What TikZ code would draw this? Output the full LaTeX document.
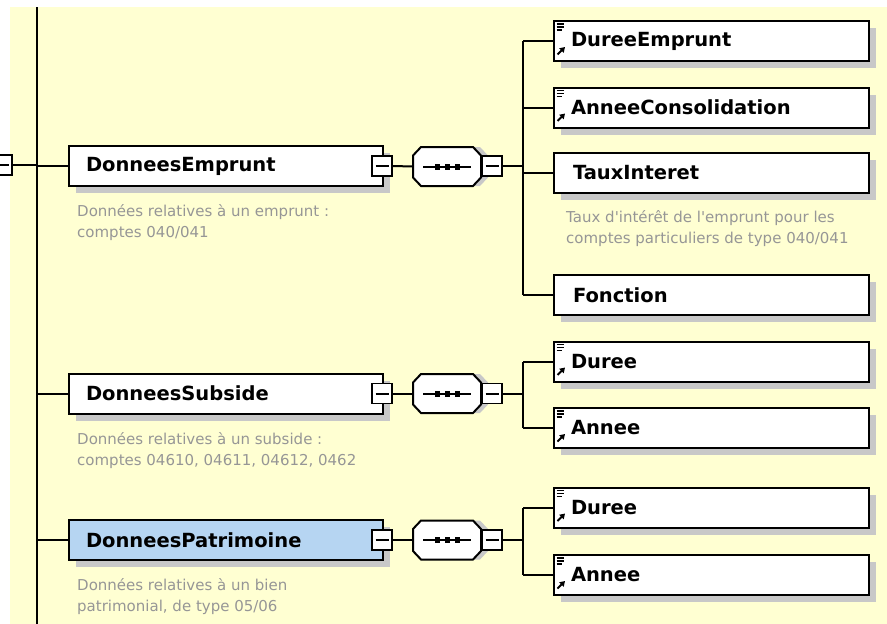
\documentclass[tikz,border=0pt]{standalone}
\usepackage{fontspec}
\setmainfont{DejaVu Sans}
\newfontfamily\descfont{DejaVu Sans}[Ligatures=TeXOff]
\usetikzlibrary{shadows,arrows.meta,calc}
\definecolor{bgyellow}{RGB}{255,255,210}
\definecolor{shgray}{RGB}{200,200,200}
\definecolor{descgray}{RGB}{150,150,150}
\definecolor{selblue}{RGB}{182,213,242}
\tikzset{
  shadowed/.style={drop shadow={shadow xshift=7pt, shadow yshift=-7pt, fill=shgray, opacity=1}},
  mainbox/.style={draw=black, line width=2pt, fill=white, minimum height=40pt,
    inner ysep=0pt, inner xsep=17pt, text width=280pt, align=left, anchor=west,
    font=\bfseries\fontsize{19.5}{22}\selectfont, shadowed},
  childbox/.style={mainbox, text width=281pt},
  minusbox/.style={draw=black, line width=1.6pt, fill=white, minimum size=20pt, inner sep=0pt},
  conn/.style={draw=black, line width=2pt},
  desc/.style={anchor=west, inner sep=0pt, align=left, text=descgray,
    font=\descfont\fontsize{15}{21}\selectfont},
  compo/.style={inner sep=0pt, minimum width=68pt, minimum height=39pt}
}
\newcommand\minussign[1]{\draw[line width=2pt] ($(#1.center)+(-6.5,0)$) -- ($(#1.center)+(6.5,0)$);}
\newcommand\seqcompo[3]{%
  \node[compo] (#1) at (#2,#3) {};
  \begin{scope}[shift={(#2,#3)}]
    \fill[shgray] (-27,-11) -- (-19,-19.5) -- (33,-19.5) -- (41,-11) -- (41,11) -- (33,19.5) -- (-19,19.5) -- (-27,11) -- cycle;
    \filldraw[fill=white, draw=black, line width=2pt] (-34,-11) -- (-26,-19.5) -- (26,-19.5) -- (34,-11) -- (34,11) -- (26,19.5) -- (-26,19.5) -- (-34,11) -- cycle;
    \draw[line width=2pt] (-24,0) -- (24,0);
    \fill (-12.5,-3) rectangle (-7.5,3);
    \fill (-2.5,-3) rectangle (2.5,3);
    \fill (7.5,-3) rectangle (12.5,3);
  \end{scope}}
\newcommand\refico[1]{%
  \begin{scope}[shift={(#1.north west)}]
    \draw[line width=1.1pt] (3.5,4) -- (10.5,4) (3.5,7) -- (10.5,7) (3.5,10) -- (9,10);
    \draw[line width=2pt, -{Triangle[length=5pt,width=6pt]}] (4.5,34.5) -- (12,27);
  \end{scope}}
\begin{document}
\begin{tikzpicture}[x=1pt,y=-1pt]
\useasboundingbox (0,0) rectangle (887,624);
\fill[white] (0,0) rectangle (887,624);
\fill[bgyellow] (10,7) rectangle (887,624);

% main trunk
\coordinate (mt) at (37,7);
\coordinate (mb) at (37,624);
\draw[conn] (mt) -- (mb);

% partial box at far left
\node[minusbox] (lb) at (2,165) {};
\minussign{lb}

% ---------- DonneesEmprunt ----------
\node[mainbox] (e) at (68,166) {DonneesEmprunt};
\node[minusbox] (em1) at (382,166) {};
\minussign{em1}
\seqcompo{ec}{447}{166.5}
\node[minusbox] (em2) at (492,166) {};
\minussign{em2}
\coordinate (et) at (523,166);
\node[desc] (ed) at (77,222.5) {Données relatives à un emprunt :\\comptes 040/041};

\node[childbox] (c1) at (553,41) {DureeEmprunt};
\node[childbox] (c2) at (553,107.5) {AnneeConsolidation};
\node[childbox, inner xsep=19pt, text width=277pt] (c3) at (553,173) {TauxInteret};
\node[desc] (c3d) at (566,228.5) {Taux d'intérêt de l'emprunt pour les\\comptes particuliers de type 040/041};
\node[childbox, inner xsep=19pt, text width=277pt] (c4) at (553,295) {Fonction};
\refico{c1}
\refico{c2}

\draw[conn] (lb.east) -- (mt |- lb.east);
\draw[conn] (mt |- e.west) -- (e.west);
\draw[conn] (em1.east) -- (ec.west);
\draw[conn] (ec.east) -- (em2.west);
\draw[conn] (em2.east) -- (et);
\draw[conn] (et |- c1.west) -- (et |- c4.west);
\foreach \c in {c1,c2,c3,c4} \draw[conn] (et |- \c.west) -- (\c.west);

% ---------- DonneesSubside ----------
\node[mainbox] (s) at (68,393.5) {DonneesSubside};
\node[minusbox] (sm1) at (382,393.5) {};
\minussign{sm1}
\seqcompo{sc}{447}{393.5}
\node[minusbox] (sm2) at (492,393.5) {};
\minussign{sm2}
\coordinate (st) at (523,393.5);
\node[desc] (sd) at (77,450.5) {Données relatives à un subside :\\comptes 04610, 04611, 04612, 0462};

\node[childbox] (s1) at (553,361.5) {Duree};
\node[childbox] (s2) at (553,428) {Annee};
\refico{s1}
\refico{s2}

\draw[conn] (mt |- s.west) -- (s.west);
\draw[conn] (sm1.east) -- (sc.west);
\draw[conn] (sc.east) -- (sm2.west);
\draw[conn] (sm2.east) -- (st);
\draw[conn] (st |- s1.west) -- (st |- s2.west);
\foreach \c in {s1,s2} \draw[conn] (st |- \c.west) -- (\c.west);

% ---------- DonneesPatrimoine ----------
\node[mainbox, fill=selblue] (p) at (68,540) {DonneesPatrimoine};
\node[minusbox] (pm1) at (382,540) {};
\minussign{pm1}
\seqcompo{pc}{447}{540}
\node[minusbox] (pm2) at (492,540) {};
\minussign{pm2}
\coordinate (pt) at (523,540);
\node[desc] (pd) at (77,596.5) {Données relatives à un bien\\patrimonial, de type 05/06};

\node[childbox] (p1) at (553,507.5) {Duree};
\node[childbox] (p2) at (553,575) {Annee};
\refico{p1}
\refico{p2}

\draw[conn] (mt |- p.west) -- (p.west);
\draw[conn] (pm1.east) -- (pc.west);
\draw[conn] (pc.east) -- (pm2.west);
\draw[conn] (pm2.east) -- (pt);
\draw[conn] (pt |- p1.west) -- (pt |- p2.west);
\foreach \c in {p1,p2} \draw[conn] (pt |- \c.west) -- (\c.west);
\end{tikzpicture}
\end{document}
